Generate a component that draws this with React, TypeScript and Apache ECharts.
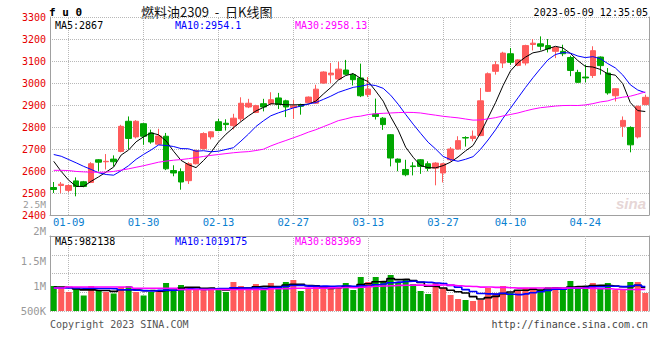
import React, { useEffect, useRef } from 'react';
import * as echarts from 'echarts';

const dates = [
  '01-05', '01-06', '01-09', '01-10', '01-11', '01-12', '01-13', '01-16', '01-17', '01-18',
  '01-19', '01-20', '01-30', '01-31', '02-01', '02-02', '02-03', '02-06', '02-07', '02-08',
  '02-09', '02-10', '02-13', '02-14', '02-15', '02-16', '02-17', '02-20', '02-21', '02-22',
  '02-23', '02-24', '02-27', '02-28', '03-01', '03-02', '03-03', '03-06', '03-07', '03-08',
  '03-09', '03-10', '03-13', '03-14', '03-15', '03-16', '03-17', '03-20', '03-21', '03-22',
  '03-23', '03-24', '03-27', '03-28', '03-29', '03-30', '03-31', '04-03', '04-04', '04-06',
  '04-07', '04-10', '04-11', '04-12', '04-13', '04-14', '04-17', '04-18', '04-19', '04-20',
  '04-21', '04-24', '04-25', '04-26', '04-27', '04-28', '05-04', '05-05', '05-08', '05-09',
];
const labelDates = ['01-09', '01-30', '02-13', '02-27', '03-13', '03-27', '04-10', '04-24'];

const opens = [
  2525, 2534, 2512, 2555, 2551, 2548, 2651, 2642, 2654, 2689,
  2826, 2755, 2815, 2773, 2722, 2758, 2602, 2597, 2556, 2633,
  2702, 2755, 2824, 2817, 2806, 2837, 2891, 2866, 2906, 2906,
  2932, 2919, 2888, 2901, 2911, 2908, 3000, 3037, 3018, 3059,
  3038, 3023, 2947, 2859, 2840, 2765, 2654, 2607, 2623, 2651,
  2633, 2613, 2591, 2651, 2700, 2752, 2748, 2761, 2962, 3053,
  3091, 3133, 3080, 3091, 3175, 3178, 3170, 3144, 3144, 3116,
  3048, 3027, 3034, 3118, 3045, 2942, 2803, 2798, 2755, 2902,
];
const closes = [
  2516, 2540, 2534, 2530, 2530, 2633, 2640, 2644, 2642, 2803,
  2748, 2826, 2758, 2732, 2759, 2610, 2591, 2550, 2633, 2693,
  2770, 2778, 2784, 2811, 2840, 2908, 2908, 2897, 2891, 2924,
  2902, 2891, 2896, 2894, 2936, 2972, 3050, 3045, 3063, 3040,
  3015, 2942, 2972, 2848, 2811, 2659, 2640, 2583, 2620, 2621,
  2612, 2636, 2633, 2700, 2738, 2750, 2758, 2919, 3042, 3083,
  3136, 3094, 3105, 3170, 3181, 3167, 3155, 3161, 3133, 3057,
  3003, 3023, 3147, 3079, 2955, 2974, 2830, 2719, 2894, 2935,
];
const lows = [
  2500, 2499, 2504, 2485, 2526, 2545, 2599, 2607, 2621, 2685,
  2700, 2748, 2719, 2724, 2720, 2604, 2576, 2515, 2541, 2630,
  2697, 2744, 2781, 2784, 2789, 2826, 2886, 2863, 2871, 2901,
  2882, 2845, 2837, 2856, 2908, 2905, 2997, 3000, 3015, 3037,
  2989, 2936, 2936, 2834, 2787, 2621, 2599, 2576, 2580, 2587,
  2599, 2535, 2548, 2644, 2697, 2711, 2735, 2758, 2959, 3038,
  3068, 3083, 3076, 3080, 3148, 3148, 3139, 3113, 3122, 3031,
  3000, 3003, 3023, 3038, 2947, 2916, 2755, 2685, 2748, 2899,
];
const highs = [
  2550, 2550, 2538, 2571, 2555, 2640, 2654, 2677, 2671, 2810,
  2848, 2831, 2818, 2788, 2792, 2773, 2626, 2612, 2640, 2697,
  2776, 2780, 2837, 2835, 2860, 2935, 2928, 2901, 2928, 2958,
  2955, 2924, 2924, 2906, 2939, 2992, 3053, 3091, 3097, 3105,
  3045, 3088, 3027, 2929, 2845, 2768, 2657, 2651, 2640, 2654,
  2644, 2640, 2637, 2709, 2758, 2758, 2784, 2977, 3048, 3099,
  3142, 3159, 3108, 3174, 3200, 3212, 3200, 3164, 3174, 3124,
  3060, 3083, 3167, 3121, 3068, 2977, 2848, 2803, 2897, 2947,
];
const volumes = [
  1000000, 980000, 880000, 940000, 810000, 1000000, 920000, 880000, 850000, 980000,
  1000000, 880000, 810000, 880000, 920000, 1060000, 900000, 1020000, 980000, 920000,
  960000, 920000, 920000, 880000, 1080000, 1000000, 920000, 1040000, 920000, 1060000,
  1000000, 1080000, 1120000, 900000, 940000, 980000, 940000, 1000000, 980000, 1060000,
  920000, 1180000, 1080000, 1180000, 1080000, 1220000, 1080000, 1120000, 1040000, 900000,
  840000, 1060000, 960000, 820000, 740000, 720000, 700000, 720000, 960000, 860000,
  1000000, 860000, 900000, 960000, 960000, 920000, 980000, 980000, 920000, 1100000,
  960000, 1000000, 1060000, 960000, 1060000, 920000, 920000, 1080000, 1080000, 860000,
];

const ma5Head = [2644, 2598, 2558, 2530];
const ma10Head = [2675, 2667, 2652, 2637, 2621, 2607, 2592, 2584, 2581];
const ma30Head = [
  2603, 2603, 2602, 2598, 2596, 2595, 2594, 2595, 2598, 2604,
  2610, 2617, 2624, 2632, 2640, 2645, 2649, 2652, 2656, 2661,
  2666, 2671, 2675, 2679, 2683, 2686, 2688, 2693, 2699,
];
const volMa5Head = [980000, 980000, 970000, 940000];
const volMa10Head = [960000, 960000, 960000, 960000, 955000, 955000, 950000, 950000, 945000];
const volMa30Head = [
  960000, 960000, 980000, 980000, 980000, 980000, 980000, 980000, 980000, 980000,
  980000, 955000, 955000, 955000, 955000, 955000, 955000, 930000, 930000, 930000,
  930000, 930000, 930000, 930000, 930000, 930000, 930000, 930000, 930000,
];

const headerTitle = '燃料油2309  -  日K线图';
const headerCode = 'f u 0';
const headerTime = '2023-05-09 12:35:05';
const priceLegend = ['MA5:2867', 'MA10:2954.1', 'MA30:2958.13'];
const volLegend = ['MA5:982138', 'MA10:1019175', 'MA30:883969'];

function movingAvg(src: number[], n: number, head: number[]) {
  return src.map((_, i) => {
    if (i < n - 1) return head[i];
    let s = 0;
    for (let k = i - n + 1; k <= i; k++) s += src[k];
    return Math.round((s / n) * 100) / 100;
  });
}

const MONO = '"DejaVu Sans Mono", "Liberation Mono", monospace';
const RED = '#ff5b5b';
const GREEN = '#00a600';
const GRID_C = '#b8b8b8';
const AXIS_C = '#a0a0a0';
const MA_COLORS = ['#000000', '#0000ff', '#ff00ff'];

export default function App() {
  const ref = useRef<HTMLDivElement>(null);
  useEffect(() => {
    const chart = echarts.init(ref.current!, null, { renderer: 'svg' });
    const ma5 = movingAvg(closes, 5, ma5Head);
    const ma10 = movingAvg(closes, 10, ma10Head);
    const ma30 = movingAvg(closes, 30, ma30Head);
    const vma5 = movingAvg(volumes, 5, volMa5Head);
    const vma10 = movingAvg(volumes, 10, volMa10Head);
    const vma30 = movingAvg(volumes, 30, volMa30Head);

    const vlines = {
      silent: true,
      symbol: ['none', 'none'],
      z: 1,
      label: { show: false },
      emphasis: { disabled: true },
      lineStyle: { type: 'dotted', color: GRID_C, width: 1 },
      data: labelDates.map((d) => ({ xAxis: d })),
      animation: false,
    };

    const legendText = (items: string[], y: number) =>
      items.map((t, i) => ({
        type: 'text',
        x: 55 + i * 120,
        y,
        style: { text: t, fill: MA_COLORS[i], font: `10px ${MONO}`, verticalAlign: 'middle', align: 'left' },
        z: 100,
      }));

    const option: any = {
      animation: false,
      backgroundColor: '#ffffff',
      grid: [
        { left: 50, right: 11, top: 17, height: 198 },
        { left: 50, right: 11, top: 236, height: 75 },
      ],
      xAxis: [
        {
          type: 'category', gridIndex: 0, data: dates, boundaryGap: true,
          axisLine: { lineStyle: { color: AXIS_C } },
          axisTick: { show: false },
          axisLabel: {
            interval: (i: number, v: string) => labelDates.includes(v),
            color: '#0a80d0', fontFamily: MONO, fontSize: 10.5, margin: 1,
          },
          splitLine: { show: false },
        },
        {
          type: 'category', gridIndex: 1, data: dates, boundaryGap: true,
          axisLine: { show: false }, axisTick: { show: false }, axisLabel: { show: false },
        },
        {
          type: 'category', gridIndex: 1, data: dates, boundaryGap: true, position: 'top',
          axisLine: { lineStyle: { color: AXIS_C } }, axisTick: { show: false }, axisLabel: { show: false },
        },
      ],
      yAxis: [
        {
          type: 'value', gridIndex: 0, min: 2400, max: 3300, interval: 100, position: 'left',
          axisLine: { show: true, lineStyle: { color: AXIS_C } },
          axisTick: { show: false },
          axisLabel: {
            color: '#e60000', fontFamily: MONO, fontSize: 10, margin: 4, lineHeight: 10, padding: [0, 0, 2, 0],
            formatter: (v: number) => String(v),
          },
          splitLine: { show: true, lineStyle: { type: 'dotted', color: GRID_C } },
        },
        {
          type: 'value', gridIndex: 0, min: 2400, max: 3300, position: 'right',
          axisLine: { show: true, lineStyle: { color: AXIS_C } },
          axisTick: { show: false }, axisLabel: { show: false }, splitLine: { show: false },
        },
        {
          type: 'value', gridIndex: 1, min: 500000, max: 2000000, interval: 500000, position: 'left',
          axisLine: { show: true, lineStyle: { color: AXIS_C } },
          axisTick: { show: false },
          axisLabel: {
            color: '#999999', fontFamily: MONO, fontSize: 10.5, margin: 4,
            formatter: (v: number) => (v >= 2000000 ? '' : v >= 1000000 ? v / 1000000 + 'M' : v / 1000 + 'K'),
          },
          splitLine: { show: false },
        },
        {
          type: 'value', gridIndex: 1, min: 0, max: 4, interval: 1, position: 'right',
          axisLine: { show: true, lineStyle: { color: AXIS_C } },
          axisTick: { show: false }, axisLabel: { show: false },
          splitLine: { show: true, lineStyle: { type: 'dotted', color: GRID_C } },
        },
      ],
      series: [
        {
          type: 'candlestick', xAxisIndex: 0, yAxisIndex: 0, z: 3,
          data: opens.map((o, i) => [o, closes[i], lows[i], highs[i]]),
          barWidth: 6,
          itemStyle: { color: RED, color0: GREEN, borderColor: RED, borderColor0: GREEN, borderWidth: 1 },
          markLine: vlines,
        },
        { type: 'line', xAxisIndex: 0, yAxisIndex: 0, z: 4, data: ma5, symbol: 'none', lineStyle: { color: MA_COLORS[0], width: 1 } },
        { type: 'line', xAxisIndex: 0, yAxisIndex: 0, z: 4, data: ma10, symbol: 'none', lineStyle: { color: MA_COLORS[1], width: 1 } },
        { type: 'line', xAxisIndex: 0, yAxisIndex: 0, z: 4, data: ma30, symbol: 'none', lineStyle: { color: MA_COLORS[2], width: 1 } },
        {
          type: 'bar', xAxisIndex: 1, yAxisIndex: 2, z: 3, barWidth: 6,
          data: volumes.map((v, i) => ({ value: v, itemStyle: { color: closes[i] >= opens[i] ? RED : GREEN } })),
          markLine: vlines,
        },
        { type: 'line', xAxisIndex: 1, yAxisIndex: 2, z: 4, data: vma5, step: 'middle', symbol: 'none', lineStyle: { color: MA_COLORS[0], width: 1.6 } },
        { type: 'line', xAxisIndex: 1, yAxisIndex: 2, z: 4, data: vma10, step: 'middle', symbol: 'none', lineStyle: { color: MA_COLORS[1], width: 1.6 } },
        { type: 'line', xAxisIndex: 1, yAxisIndex: 2, z: 4, data: vma30, step: 'middle', symbol: 'none', lineStyle: { color: MA_COLORS[2], width: 1.6 } },
      ],
      graphic: [
        { type: 'text', x: 49, y: 12, style: { text: headerCode, fill: '#000', font: `bold 11px ${MONO}`, verticalAlign: 'middle' } },
        { type: 'text', x: 141, y: 11, style: { text: headerTitle, fill: '#111', font: '13px "Noto Sans CJK SC"', verticalAlign: 'middle' } },
        { type: 'text', x: 648, y: 12, style: { text: headerTime, fill: '#000', font: `10px ${MONO}`, verticalAlign: 'middle', align: 'right' } },
        ...legendText(priceLegend, 25),
        ...legendText(volLegend, 241),
        { type: 'text', x: 46, y: 204, style: { text: '2.5M', fill: '#999', font: `9.5px ${MONO}`, lineHeight: 9, verticalAlign: 'middle', align: 'right' } },
        { type: 'text', x: 46, y: 231, style: { text: '2M', fill: '#999', font: `10.5px ${MONO}`, verticalAlign: 'middle', align: 'right' } },
        { type: 'text', x: 50, y: 324, style: { text: 'Copyright 2023 SINA.COM', fill: '#555', font: `10px ${MONO}`, verticalAlign: 'middle' } },
        { type: 'text', x: 648, y: 324, style: { text: 'http://finance.sina.com.cn', fill: '#444', font: `10px ${MONO}`, verticalAlign: 'middle', align: 'right' } },
        { type: 'text', x: 646, y: 203, z: 0, style: { text: 'sina', fill: '#e6d6d6', font: 'italic bold 15px Arial, "Liberation Sans"', verticalAlign: 'middle', align: 'right' } },
      ],
    };
    chart.setOption(option);
    return () => chart.dispose();
  }, []);
  return <div ref={ref} style={{ position: 'fixed', left: 0, top: 0, width: 660, height: 360, background: '#fff' }} />;
}
